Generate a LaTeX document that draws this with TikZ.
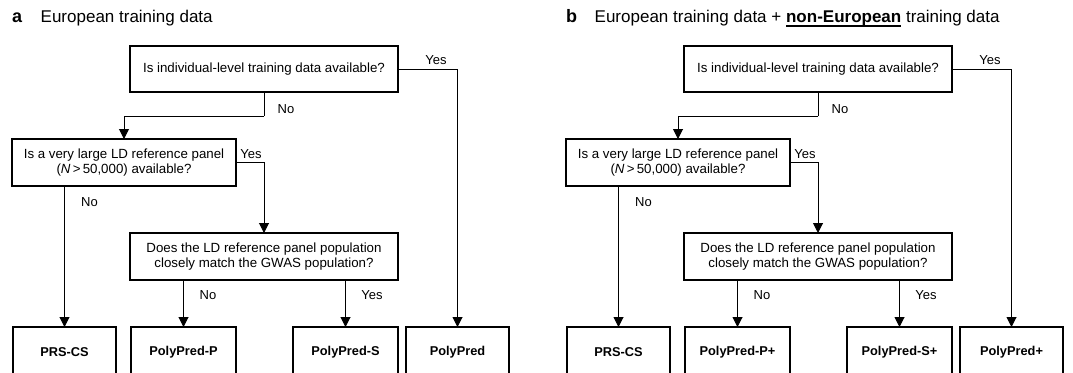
\documentclass[tikz,border=0pt]{standalone}
\usepackage{fontspec}
\setmainfont{Liberation Sans}
\usetikzlibrary{arrows.meta}
\newcommand\ulbf[1]{\setbox0\hbox{\textbf{#1}}\rlap{\rule[-3.6pt]{\wd0}{1.3pt}}\box0\relax}
\tikzset{
  qbox/.style={draw, line width=2pt, inner sep=0pt, outer sep=0pt, align=center,
    font=\fontsize{13.3}{15}\selectfont},
  rbox/.style={draw, line width=2pt, inner sep=0pt, outer sep=0pt, minimum height=51pt,
    font=\fontsize{12.8}{14}\selectfont\bfseries},
  conn/.style={line width=1pt, -{Triangle[width=10pt,length=10pt]}},
  plain/.style={line width=1pt},
  lab/.style={inner sep=0pt, font=\fontsize{13}{14}\selectfont},
  ttl/.style={inner sep=0pt, anchor=base west, font=\fontsize{17}{20}\selectfont},
  plab/.style={inner sep=0pt, anchor=base west, font=\fontsize{18}{20}\selectfont\bfseries}
}
\begin{document}
\begin{tikzpicture}[x=1pt,y=-1pt]
\useasboundingbox (0,0) rectangle (1073,372);
\clip (0,0) rectangle (1073,372);
\fill[white] (0,0) rectangle (1073,372);
% ---------------- panel a ----------------
\node[plab] (aL) at (12,23) {a};
\node[ttl] (aT) at (40.5,23) {European training data};
\node[qbox, minimum width=268pt, minimum height=46pt] (aq1) at (264,69) {Is individual-level training data available?};
\node[qbox, minimum width=224pt, minimum height=47pt] (aq2) at (124,162.5) {Is a very large LD reference panel\\(\textit{N}\,>\,50,000) available?};
\node[qbox, minimum width=268pt, minimum height=47pt] (aq3) at (264,256.5) {Does the LD reference panel population\\closely match the GWAS population?};
\node[rbox, minimum width=103pt] (ar1) at (64.5,352.5) {PRS-CS};
\node[rbox, minimum width=105pt] (ar2) at (183.5,352.5) {PolyPred-P};
\node[rbox, minimum width=105pt] (ar3) at (345.5,352.5) {PolyPred-S};
\node[rbox, minimum width=103pt] (ar4) at (457.5,352.5) {PolyPred};
\coordinate (aj1) at (264,116);
\draw[plain] (aq1.south) -- (aj1);
\draw[conn] (aj1) -| (aq2.north);
\draw[conn] (aq1.east) -| (ar4.north);
\draw[conn] (aq2.east) -| (aq3.north);
\draw[conn] (aq2.south -| ar1.north) -- (ar1.north);
\draw[conn] (aq3.south -| ar2.north) -- (ar2.north);
\draw[conn] (aq3.south -| ar3.north) -- (ar3.north);
\node[lab] (ay1) at (436,60) {Yes};
\node[lab] (an1) at (286,109) {No};
\node[lab] (ay2) at (251,154) {Yes};
\node[lab] (an2) at (89.5,202) {No};
\node[lab] (an3) at (208,295) {No};
\node[lab] (ay3) at (372,295) {Yes};
% ---------------- panel b ----------------
\begin{scope}[xshift=554pt]
\node[plab] (bL) at (12,23) {b};
\node[ttl] (bT) at (40.5,23) {European training data + \ulbf{non-European} training data};
\node[qbox, minimum width=268pt, minimum height=46pt] (bq1) at (264,69) {Is individual-level training data available?};
\node[qbox, minimum width=224pt, minimum height=47pt] (bq2) at (124,162.5) {Is a very large LD reference panel\\(\textit{N}\,>\,50,000) available?};
\node[qbox, minimum width=268pt, minimum height=47pt] (bq3) at (264,256.5) {Does the LD reference panel population\\closely match the GWAS population?};
\node[rbox, minimum width=103pt] (br1) at (64.5,352.5) {PRS-CS};
\node[rbox, minimum width=105pt] (br2) at (183.5,352.5) {PolyPred-P+};
\node[rbox, minimum width=105pt] (br3) at (345.5,352.5) {PolyPred-S+};
\node[rbox, minimum width=103pt] (br4) at (457.5,352.5) {PolyPred+};
\coordinate (bj1) at (264,116);
\draw[plain] (bq1.south) -- (bj1);
\draw[conn] (bj1) -| (bq2.north);
\draw[conn] (bq1.east) -| (br4.north);
\draw[conn] (bq2.east) -| (bq3.north);
\draw[conn] (bq2.south -| br1.north) -- (br1.north);
\draw[conn] (bq3.south -| br2.north) -- (br2.north);
\draw[conn] (bq3.south -| br3.north) -- (br3.north);
\node[lab] (by1) at (436,60) {Yes};
\node[lab] (bn1) at (286,109) {No};
\node[lab] (by2) at (251,154) {Yes};
\node[lab] (bn2) at (89.5,202) {No};
\node[lab] (bn3) at (208,295) {No};
\node[lab] (by3) at (372,295) {Yes};
\end{scope}
\end{tikzpicture}
\end{document}
